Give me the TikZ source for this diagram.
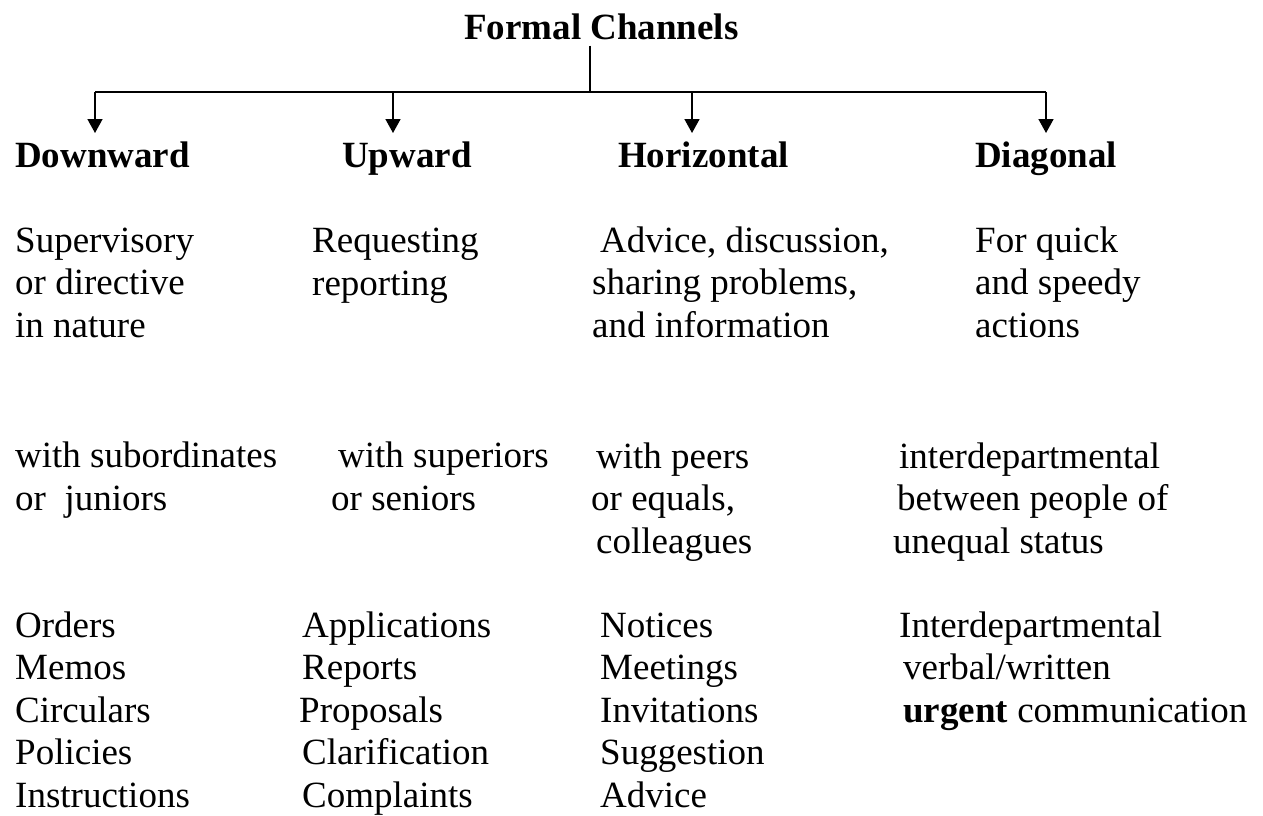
\documentclass[tikz,border=0pt]{standalone}
\usepackage{fontspec}
\setmainfont{Liberation Serif}
\usetikzlibrary{arrows.meta}

\tikzset{
  txt/.style={anchor=base west, inner sep=0pt, align=left,
    font=\fontsize{37}{42.5}\selectfont},
  hd/.style={txt, font=\fontsize{37}{42.5}\selectfont\bfseries},
  branch/.style={line width=1.6pt, -{Triangle[width=15pt,length=14pt]}}
}

\begin{document}
\begin{tikzpicture}[x=1pt,y=1pt]
  \useasboundingbox (0,0) rectangle (1263,-815);
  \node [hd] (title) at (464,-39) {Formal Channels};
  % headings
  \node [hd] (down) at (15,-167) {Downward};
  \node [hd] (up) at (342,-167) {Upward};
  \node [hd] (hor) at (618,-167) {Horizontal};
  \node [hd] (diag) at (975,-167) {Diagonal};
  % branching
  \coordinate (bus) at (590,-92);
  \path (title.south) ++(0,-6) coordinate (stem-top);
  \foreach \n/\x in {down/95,up/393,hor/692,diag/1046}
    \coordinate (\n-tip) at (\x,-133);
  \draw [line width=1.6pt] (bus |- stem-top) -- (bus);
  \draw [line width=1.6pt] (down-tip |- bus) -- (diag-tip |- bus);
  \foreach \n in {down,up,hor,diag}
    \draw [branch] (\n-tip |- bus) -- (\n-tip);
  % nature (base = last line)
  \node [txt] (down-nat) at (15,-337) {Supervisory\\or directive\\in nature};
  \node [txt] (up-nat) at (312,-295) {Requesting\\reporting};
  \node [txt] (hor-nat) at (592,-337) {\hspace*{8pt}Advice, discussion,\\sharing problems,\\and information};
  \node [txt] (diag-nat) at (975,-337) {For quick\\and speedy\\actions};
  % with whom
  \node [txt] (down-who) at (15,-510) {with subordinates\\or\ \ juniors};
  \node [txt] (up-who) at (331,-510) {\hspace*{7pt}with superiors\\or seniors};
  \node [txt] (hor-who) at (591,-553) {\hspace*{5pt}with peers\\or equals,\\\hspace*{5pt}colleagues};
  \node [txt] (diag-who) at (893,-553) {\hspace*{6pt}interdepartmental\\\hspace*{4pt}between people of\\unequal status};
  % examples
  \node [txt] (down-ex) at (15,-807) {Orders\\Memos\\Circulars\\Policies\\Instructions};
  \node [txt] (up-ex) at (299,-807) {\hspace*{3pt}Applications\\\hspace*{3pt}Reports\\Proposals\\\hspace*{3pt}Clarification\\\hspace*{3pt}Complaints};
  \node [txt] (hor-ex) at (600,-807) {Notices\\Meetings\\Invitations\\Suggestion\\Advice};
  \node [txt] (diag-ex) at (899,-722) {Interdepartmental\\\hspace*{4pt}verbal/written\\\hspace*{4pt}\textbf{urgent} communication};
\end{tikzpicture}
\end{document}
